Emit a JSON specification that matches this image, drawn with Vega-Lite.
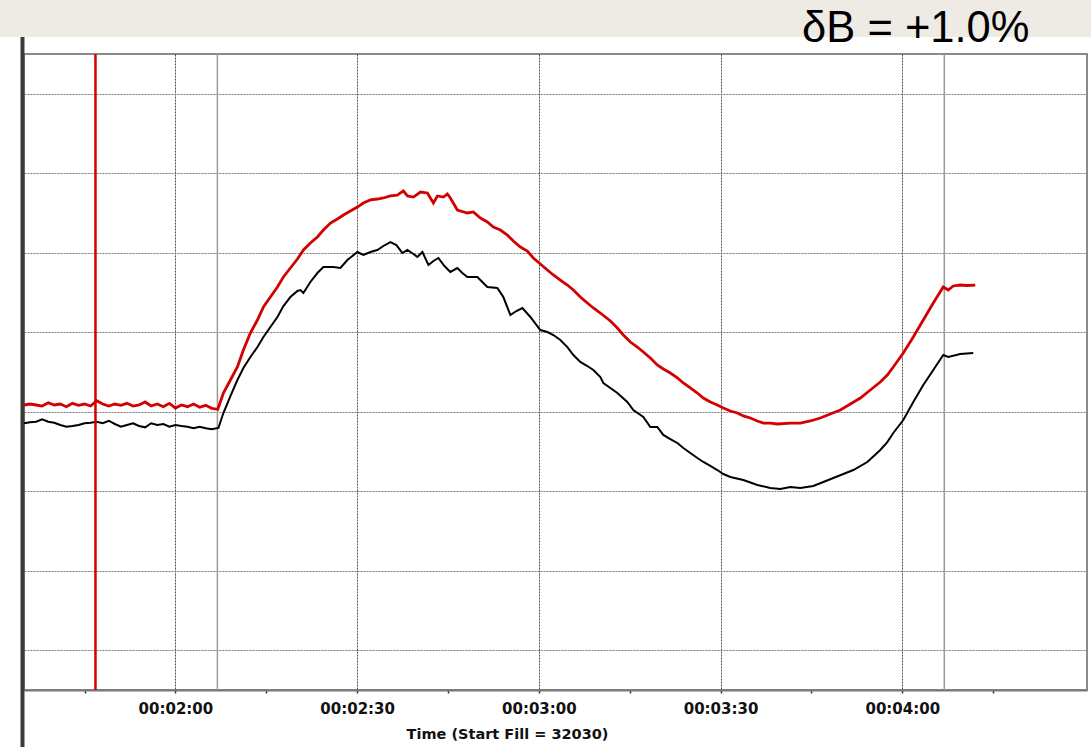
{
  "$schema": "https://vega.github.io/schema/vega-lite/v6.json",
  "width": 1063,
  "height": 636,
  "autosize": {"type": "none"},
  "padding": {"left": 24, "top": 54, "right": 4, "bottom": 57},
  "background": "white",
  "config": {"view": {"stroke": "#8a8a8a", "strokeWidth": 2}},
  "datasets": {
    "markers": [{"t": 126.93}, {"t": 246.94}],
    "cursor": [{"t": 106.8}],
    "label": [{"text": "δB = +1.0%"}],
    "red": [
      {"t": 95, "v": 3.585}, {"t": 96, "v": 3.597}, {"t": 97, "v": 3.585}, {"t": 98, "v": 3.572}, {"t": 99, "v": 3.614},
      {"t": 100, "v": 3.585}, {"t": 101, "v": 3.597}, {"t": 102, "v": 3.564}, {"t": 103, "v": 3.606}, {"t": 104, "v": 3.581},
      {"t": 105, "v": 3.597}, {"t": 106, "v": 3.572}, {"t": 107, "v": 3.639}, {"t": 108, "v": 3.597}, {"t": 109, "v": 3.572},
      {"t": 110, "v": 3.597}, {"t": 111, "v": 3.581}, {"t": 112, "v": 3.606}, {"t": 113, "v": 3.572}, {"t": 114, "v": 3.585},
      {"t": 115, "v": 3.623}, {"t": 116, "v": 3.572}, {"t": 117, "v": 3.597}, {"t": 118, "v": 3.564}, {"t": 119, "v": 3.606},
      {"t": 120, "v": 3.547}, {"t": 121, "v": 3.585}, {"t": 122, "v": 3.564}, {"t": 123, "v": 3.597}, {"t": 124, "v": 3.556},
      {"t": 125, "v": 3.581}, {"t": 126, "v": 3.543}, {"t": 127, "v": 3.531},
      {"t": 127.92, "v": 3.736}, {"t": 129.08, "v": 3.899}, {"t": 130.23, "v": 4.063}, {"t": 131.22, "v": 4.277},
      {"t": 132.38, "v": 4.491}, {"t": 133.54, "v": 4.654}, {"t": 134.53, "v": 4.818}, {"t": 135.68, "v": 4.943},
      {"t": 136.84, "v": 5.069}, {"t": 137.83, "v": 5.195}, {"t": 138.98, "v": 5.308}, {"t": 140.14, "v": 5.421},
      {"t": 141.13, "v": 5.535}, {"t": 142.28, "v": 5.623}, {"t": 143.44, "v": 5.698}, {"t": 144.43, "v": 5.786},
      {"t": 145.59, "v": 5.874}, {"t": 146.74, "v": 5.925}, {"t": 147.73, "v": 5.975}, {"t": 148.89, "v": 6.025},
      {"t": 150.04, "v": 6.075}, {"t": 151.03, "v": 6.126}, {"t": 152.19, "v": 6.164}, {"t": 153.34, "v": 6.176},
      {"t": 154.33, "v": 6.189}, {"t": 155.49, "v": 6.214}, {"t": 156.65, "v": 6.226}, {"t": 157.15, "v": 6.252},
      {"t": 157.64, "v": 6.277}, {"t": 158.3, "v": 6.214}, {"t": 159.29, "v": 6.201}, {"t": 160.45, "v": 6.264},
      {"t": 161.6, "v": 6.252}, {"t": 162.59, "v": 6.126}, {"t": 163.25, "v": 6.214}, {"t": 164.24, "v": 6.201},
      {"t": 164.9, "v": 6.239}, {"t": 165.39, "v": 6.189}, {"t": 166.55, "v": 6.038}, {"t": 168.2, "v": 6.0},
      {"t": 169.19, "v": 6.013}, {"t": 170.35, "v": 5.937}, {"t": 171.5, "v": 5.887}, {"t": 172.49, "v": 5.824},
      {"t": 173.65, "v": 5.786}, {"t": 174.8, "v": 5.723}, {"t": 175.79, "v": 5.648}, {"t": 176.95, "v": 5.572},
      {"t": 178.1, "v": 5.522}, {"t": 179.09, "v": 5.434}, {"t": 180.25, "v": 5.358}, {"t": 181.41, "v": 5.283},
      {"t": 182.4, "v": 5.22}, {"t": 183.55, "v": 5.157}, {"t": 184.71, "v": 5.094}, {"t": 185.7, "v": 5.031},
      {"t": 186.85, "v": 4.943}, {"t": 188.01, "v": 4.868}, {"t": 189.0, "v": 4.805}, {"t": 190.16, "v": 4.742},
      {"t": 191.81, "v": 4.642}, {"t": 192.96, "v": 4.553}, {"t": 193.95, "v": 4.465}, {"t": 195.11, "v": 4.377},
      {"t": 196.26, "v": 4.314}, {"t": 197.25, "v": 4.252}, {"t": 198.41, "v": 4.176}, {"t": 199.56, "v": 4.088},
      {"t": 200.55, "v": 4.038}, {"t": 201.71, "v": 3.987}, {"t": 202.87, "v": 3.925}, {"t": 203.86, "v": 3.862},
      {"t": 205.01, "v": 3.799}, {"t": 206.17, "v": 3.736}, {"t": 207.16, "v": 3.673}, {"t": 208.32, "v": 3.623},
      {"t": 209.47, "v": 3.585}, {"t": 210.46, "v": 3.547}, {"t": 211.62, "v": 3.509}, {"t": 212.78, "v": 3.484},
      {"t": 213.77, "v": 3.447}, {"t": 214.92, "v": 3.421}, {"t": 216.08, "v": 3.384}, {"t": 217.07, "v": 3.358},
      {"t": 218.22, "v": 3.358}, {"t": 219.38, "v": 3.346}, {"t": 221.52, "v": 3.358}, {"t": 223.17, "v": 3.358},
      {"t": 224.82, "v": 3.384}, {"t": 226.47, "v": 3.421}, {"t": 228.12, "v": 3.472}, {"t": 229.78, "v": 3.522},
      {"t": 231.43, "v": 3.597}, {"t": 233.08, "v": 3.673}, {"t": 234.73, "v": 3.774}, {"t": 236.37, "v": 3.874},
      {"t": 237.53, "v": 3.962}, {"t": 238.52, "v": 4.063}, {"t": 240.17, "v": 4.239}, {"t": 241.82, "v": 4.44},
      {"t": 243.47, "v": 4.654}, {"t": 245.12, "v": 4.868}, {"t": 246.77, "v": 5.069}, {"t": 247.59, "v": 5.031},
      {"t": 248.42, "v": 5.082}, {"t": 249.57, "v": 5.094}, {"t": 250.73, "v": 5.088}, {"t": 252.05, "v": 5.094}
    ],
    "black": [
      {"t": 95, "v": 3.355}, {"t": 96, "v": 3.367}, {"t": 97, "v": 3.375}, {"t": 98, "v": 3.405}, {"t": 99, "v": 3.375},
      {"t": 100, "v": 3.362}, {"t": 101, "v": 3.333}, {"t": 102, "v": 3.312}, {"t": 103, "v": 3.321}, {"t": 104, "v": 3.333},
      {"t": 105, "v": 3.355}, {"t": 106, "v": 3.362}, {"t": 107, "v": 3.375}, {"t": 108, "v": 3.355}, {"t": 109, "v": 3.387},
      {"t": 110, "v": 3.346}, {"t": 111, "v": 3.312}, {"t": 112, "v": 3.333}, {"t": 113, "v": 3.355}, {"t": 114, "v": 3.321},
      {"t": 115, "v": 3.304}, {"t": 116, "v": 3.355}, {"t": 117, "v": 3.333}, {"t": 118, "v": 3.346}, {"t": 119, "v": 3.312},
      {"t": 120, "v": 3.333}, {"t": 121, "v": 3.321}, {"t": 122, "v": 3.312}, {"t": 123, "v": 3.292}, {"t": 124, "v": 3.312},
      {"t": 125, "v": 3.292}, {"t": 126, "v": 3.279}, {"t": 127.1, "v": 3.296},
      {"t": 127.92, "v": 3.484}, {"t": 129.08, "v": 3.698}, {"t": 130.23, "v": 3.899}, {"t": 131.22, "v": 4.05},
      {"t": 132.38, "v": 4.189}, {"t": 133.54, "v": 4.314}, {"t": 134.53, "v": 4.44}, {"t": 135.68, "v": 4.566},
      {"t": 136.84, "v": 4.692}, {"t": 137.83, "v": 4.83}, {"t": 138.98, "v": 4.943}, {"t": 140.14, "v": 5.019},
      {"t": 140.63, "v": 5.031}, {"t": 141.13, "v": 4.994}, {"t": 142.28, "v": 5.132}, {"t": 143.44, "v": 5.245},
      {"t": 144.43, "v": 5.321}, {"t": 146.08, "v": 5.321}, {"t": 147.24, "v": 5.308}, {"t": 148.39, "v": 5.409},
      {"t": 150.04, "v": 5.509}, {"t": 151.03, "v": 5.472}, {"t": 152.19, "v": 5.509}, {"t": 153.34, "v": 5.535},
      {"t": 154.33, "v": 5.585}, {"t": 155.49, "v": 5.635}, {"t": 156.48, "v": 5.597}, {"t": 157.47, "v": 5.497},
      {"t": 158.3, "v": 5.535}, {"t": 159.29, "v": 5.484}, {"t": 159.95, "v": 5.447}, {"t": 160.78, "v": 5.509},
      {"t": 161.77, "v": 5.346}, {"t": 162.6, "v": 5.396}, {"t": 163.42, "v": 5.434}, {"t": 164.41, "v": 5.333},
      {"t": 165.39, "v": 5.258}, {"t": 166.55, "v": 5.308}, {"t": 167.37, "v": 5.245}, {"t": 168.2, "v": 5.195},
      {"t": 169.85, "v": 5.195}, {"t": 171.5, "v": 5.069}, {"t": 173.15, "v": 5.057}, {"t": 174.14, "v": 4.943},
      {"t": 175.3, "v": 4.717}, {"t": 176.29, "v": 4.767}, {"t": 177.28, "v": 4.805}, {"t": 178.6, "v": 4.692},
      {"t": 180.25, "v": 4.528}, {"t": 181.41, "v": 4.503}, {"t": 182.4, "v": 4.465}, {"t": 183.55, "v": 4.403},
      {"t": 184.71, "v": 4.314}, {"t": 185.7, "v": 4.214}, {"t": 186.85, "v": 4.126}, {"t": 188.01, "v": 4.075},
      {"t": 189.0, "v": 4.025}, {"t": 190.16, "v": 3.937}, {"t": 190.65, "v": 3.862}, {"t": 191.81, "v": 3.799},
      {"t": 192.96, "v": 3.736}, {"t": 194.61, "v": 3.623}, {"t": 195.6, "v": 3.522}, {"t": 197.25, "v": 3.434},
      {"t": 198.41, "v": 3.308}, {"t": 199.56, "v": 3.308}, {"t": 200.55, "v": 3.208}, {"t": 201.71, "v": 3.157},
      {"t": 202.87, "v": 3.107}, {"t": 203.86, "v": 3.044}, {"t": 205.01, "v": 2.981}, {"t": 206.17, "v": 2.918},
      {"t": 207.16, "v": 2.868}, {"t": 208.32, "v": 2.818}, {"t": 209.47, "v": 2.767}, {"t": 210.46, "v": 2.717},
      {"t": 211.62, "v": 2.679}, {"t": 213.77, "v": 2.642}, {"t": 216.08, "v": 2.579}, {"t": 218.22, "v": 2.541},
      {"t": 219.87, "v": 2.528}, {"t": 221.52, "v": 2.553}, {"t": 223.17, "v": 2.541}, {"t": 225.31, "v": 2.566},
      {"t": 226.97, "v": 2.616}, {"t": 228.62, "v": 2.667}, {"t": 230.27, "v": 2.717}, {"t": 231.92, "v": 2.767},
      {"t": 234.23, "v": 2.868}, {"t": 236.37, "v": 3.019}, {"t": 237.53, "v": 3.119}, {"t": 238.52, "v": 3.233},
      {"t": 240.17, "v": 3.396}, {"t": 241.82, "v": 3.623}, {"t": 243.47, "v": 3.836}, {"t": 245.12, "v": 4.025},
      {"t": 246.77, "v": 4.214}, {"t": 247.59, "v": 4.189}, {"t": 249.57, "v": 4.226}, {"t": 251.72, "v": 4.239}
    ]
  },
  "layer": [
    {
      "data": {"values": [{}]},
      "mark": {"type": "rect", "color": "#EEEBE4"},
      "encoding": {
        "x": {"datum": 90, "type": "quantitative", "scale": {"domain": [95, 270.5], "nice": false, "zero": false}},
        "x2": {"datum": 272},
        "y": {"datum": 8.214, "type": "quantitative", "scale": {"domain": [0, 8], "nice": false, "zero": false}},
        "y2": {"datum": 8.7}
      }
    },
    {
      "data": {"values": [{}]},
      "mark": {"type": "rule", "color": "#3a3a3a", "strokeWidth": 4},
      "encoding": {
        "x": {"datum": 94.75, "type": "quantitative", "scale": {"domain": [95, 270.5], "nice": false, "zero": false}},
        "y": {"datum": -0.75, "type": "quantitative", "scale": {"domain": [0, 8], "nice": false, "zero": false}},
        "y2": {"datum": 8.214}
      }
    },
    {
      "data": {"name": "label"},
      "mark": {"type": "text", "align": "right", "baseline": "alphabetic", "font": "Liberation Sans", "fontSize": 43.5, "color": "#000000"},
      "encoding": {
        "x": {"datum": 261.0, "type": "quantitative", "scale": {"domain": [95, 270.5], "nice": false, "zero": false}},
        "y": {"datum": 8.152, "type": "quantitative", "scale": {"domain": [0, 8], "nice": false, "zero": false}},
        "text": {"field": "text", "type": "nominal"}
      }
    },
    {
      "data": {"name": "markers"},
      "mark": {"type": "rule", "color": "#9a9a9a", "strokeWidth": 1.5},
      "encoding": {
        "x": {"field": "t", "type": "quantitative", "scale": {"domain": [95, 270.5], "nice": false, "zero": false}}
      }
    },
    {
      "data": {"name": "red"},
      "mark": {"type": "line", "color": "#d40000", "strokeWidth": 2.8},
      "encoding": {
        "x": {
          "field": "t", "type": "quantitative",
          "scale": {"domain": [95, 270.5], "nice": false, "zero": false},
          "axis": {
            "values": [105, 120, 135, 150, 165, 180, 195, 210, 225, 240, 255],
            "labelExpr": "datum.value % 30 === 0 ? '00:0' + floor(datum.value / 60) + ':' + (datum.value % 60 === 0 ? '00' : '30') : ''",
            "labelFont": "DejaVu Sans", "labelFontSize": 15, "labelFontWeight": "bold", "labelColor": "#111111",
            "labelPadding": 8, "labelOverlap": false, "labelFlush": false,
            "tickSize": 3, "tickColor": "#333333", "tickWidth": 1.5,
            "domainColor": "#777777", "domainWidth": 2,
            "grid": true, "gridColor": "#333333", "gridDash": [2, 1], "gridWidth": 1,
            "gridOpacity": {"condition": {"test": "datum.value % 30 === 0", "value": 0.85}, "value": 0},
            "title": "Time (Start Fill = 32030)",
            "titleFont": "DejaVu Sans", "titleFontSize": 14.5, "titleFontWeight": "bold", "titleColor": "#111111",
            "titleX": 483, "titleY": 37, "titleBaseline": "top", "titleAnchor": "middle"
          }
        },
        "y": {
          "field": "v", "type": "quantitative",
          "scale": {"domain": [0, 8], "nice": false, "zero": false},
          "axis": {
            "values": [0.5, 1.5, 2.5, 3.5, 4.5, 5.5, 6.5, 7.5],
            "labels": false, "ticks": false, "domain": false, "title": null,
            "grid": true, "gridColor": "#7a7a7a", "gridDash": [2, 1], "gridWidth": 1
          }
        }
      }
    },
    {
      "data": {"name": "black"},
      "mark": {"type": "line", "color": "#000000", "strokeWidth": 2},
      "encoding": {
        "x": {"field": "t", "type": "quantitative", "scale": {"domain": [95, 270.5], "nice": false, "zero": false}},
        "y": {"field": "v", "type": "quantitative", "scale": {"domain": [0, 8], "nice": false, "zero": false}}
      }
    },
    {
      "data": {"name": "cursor"},
      "mark": {"type": "rule", "color": "#d40000", "strokeWidth": 2.5},
      "encoding": {
        "x": {"field": "t", "type": "quantitative", "scale": {"domain": [95, 270.5], "nice": false, "zero": false}}
      }
    }
  ]
}
